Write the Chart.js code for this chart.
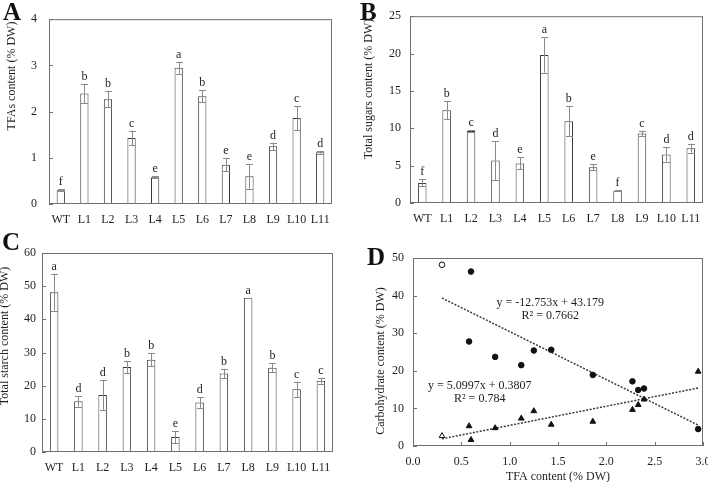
<!DOCTYPE html>
<html>
<head>
<meta charset="utf-8">
<script src="https://cdn.jsdelivr.net/npm/chart.js@4.4.0/dist/chart.umd.min.js"></script>
<style>
  body { margin: 0; background: #fff; width: 708px; height: 482px; position: relative; overflow: hidden; }
  canvas { position: absolute; }
</style>
</head>
<body>
<canvas id="chartA" width="340" height="230" style="left:0;top:0"></canvas>
<canvas id="chartB" width="354" height="230" style="left:354px;top:0"></canvas>
<canvas id="chartC" width="340" height="252" style="left:0;top:230px"></canvas>
<canvas id="chartD" width="354" height="252" style="left:354px;top:230px"></canvas>
<script>
'use strict'

const lines = ['WT', 'L1', 'L2', 'L3', 'L4', 'L5', 'L6', 'L7', 'L8', 'L9', 'L10', 'L11'];

// TFAs content (% DW)
const tfa = [0.30, 2.39, 2.27, 1.43, 0.58, 2.95, 2.33, 0.85, 0.60, 1.25, 1.86, 1.12];
const tfaErr = [0.02, 0.21, 0.18, 0.16, 0.02, 0.13, 0.13, 0.14, 0.27, 0.08, 0.26, 0.03];
const tfaLetters = ['f', 'b', 'b', 'c', 'e', 'a', 'b', 'e', 'e', 'd', 'c', 'd'];

// Total sugars content (% DW)
const sugars = [2.68, 12.4, 9.65, 5.7, 5.3, 19.8, 10.95, 4.78, 1.64, 9.3, 6.5, 7.34];
const sugarsErr = [0.47, 1.2, 0.12, 2.6, 0.8, 2.35, 2.05, 0.42, 0.05, 0.4, 0.95, 0.6];
const sugarsLetters = ['f', 'b', 'c', 'd', 'e', 'a', 'b', 'e', 'f', 'c', 'd', 'd'];

// Total starch content (% DW)
const starch = [48.2, 15.3, 17.2, 25.6, 27.8, 4.5, 14.9, 23.7, 46.4, 25.4, 18.9, 21.5];
const starchErr = [5.6, 1.6, 4.5, 1.8, 1.9, 1.8, 1.6, 1.4, 0.1, 1.3, 2.3, 0.9];
const starchLetters = ['a', 'd', 'd', 'b', 'b', 'e', 'd', 'b', 'a', 'b', 'c', 'c'];

// trend lines of panel D
const starchFit = [-12.753, 43.179];
const starchR2 = '0.7662';
const sugarsFit = [5.0997, 0.3807];
const sugarsR2 = '0.784';

const SERIF = '"Liberation Serif", "Times New Roman", serif';
const INK = '#1e1e1e';

// frame, inside ticks, error bars, letters, titles
const decor = {
    id: 'decor',
    afterDatasetsDraw(chart, args, opts) {
        const { ctx, chartArea: a, scales } = chart;
        ctx.save();

        if (opts.errors) {
            const meta = chart.getDatasetMeta(0);
            const values = chart.data.datasets[0].data;
            meta.data.forEach((bar, i) => {
                const top = scales.y.getPixelForValue(values[i] + opts.errors[i]);
                const bot = scales.y.getPixelForValue(values[i] - opts.errors[i]);
                const x = Math.round(bar.x) + 0.5;
                ctx.strokeStyle = '#8a8a8a';
                ctx.lineWidth = 1;
                ctx.beginPath();
                ctx.moveTo(x, top); ctx.lineTo(x, bot);
                ctx.moveTo(x - 3.5, Math.round(top) + 0.5); ctx.lineTo(x + 3.5, Math.round(top) + 0.5);
                ctx.moveTo(x - 3.5, Math.round(bot) + 0.5); ctx.lineTo(x + 3.5, Math.round(bot) + 0.5);
                ctx.stroke();
                ctx.fillStyle = INK;
                ctx.font = '12px ' + SERIF;
                ctx.textAlign = 'center';
                ctx.textBaseline = 'alphabetic';
                ctx.fillText(opts.letters[i], bar.x, top - 4);
            });
        }

        // plot frame
        ctx.strokeStyle = '#707070';
        ctx.lineWidth = 1;
        ctx.strokeRect(a.left + 0.5, a.top + 0.5, a.width - 1, a.height - 1);

        // tick marks pointing inside
        ctx.beginPath();
        scales.y.ticks.forEach((t, i) => {
            const p = Math.round(scales.y.getPixelForTick(i)) + 0.5;
            ctx.moveTo(a.left, p); ctx.lineTo(a.left + 4, p);
        });
        if (opts.xTicks) {
            scales.x.ticks.forEach((t, i) => {
                const p = Math.round(scales.x.getPixelForTick(i)) + 0.5;
                ctx.moveTo(p, a.bottom); ctx.lineTo(p, a.bottom - 4);
            });
        }
        ctx.stroke();

        ctx.fillStyle = INK;
        ctx.textAlign = 'center';
        ctx.textBaseline = 'middle';
        ctx.font = '12px ' + SERIF;
        if (opts.notes) {
            opts.notes.forEach(n => {
                const x = scales.x.getPixelForValue(n.x);
                const y = scales.y.getPixelForValue(n.y);
                n.text.forEach((t, k) => ctx.fillText(t, x, y + k * 13));
            });
        }
        if (opts.xTitle) {
            ctx.fillText(opts.xTitle, (a.left + a.right) / 2, opts.xTitleY);
        }
        ctx.save();
        ctx.translate(opts.yTitle.x, opts.yTitle.y);
        ctx.rotate(-Math.PI / 2);
        ctx.fillText(opts.yTitle.text, 0, 0);
        ctx.restore();

        ctx.font = 'bold 25px ' + SERIF;
        ctx.textAlign = 'left';
        ctx.textBaseline = 'alphabetic';
        ctx.fillStyle = '#111';
        ctx.fillText(opts.tag.text, opts.tag.x, opts.tag.y);

        ctx.restore();
    }
};

const tickFont = { family: SERIF, size: 12 };
const noGrid = { display: false, drawTicks: false };

function barChart(id, values, errors, letters, yMax, yStep, box) {
    return new Chart(document.getElementById(id), {
        type: 'bar',
        data: {
            labels: lines,
            datasets: [{
                data: values,
                backgroundColor: '#ffffff',
                borderColor: '#3a3a3a',
                borderWidth: 1,
                barPercentage: 0.35,
                categoryPercentage: 1
            }]
        },
        options: {
            responsive: false,
            animation: false,
            layout: { padding: { top: box.top, right: box.right, left: 0, bottom: 0 } },
            plugins: {
                legend: { display: false },
                tooltip: { enabled: false },
                decor: { errors, letters, yTitle: box.title, tag: box.tag }
            },
            scales: {
                x: {
                    grid: noGrid,
                    border: { display: false },
                    ticks: { color: INK, font: tickFont, padding: 9, maxRotation: 0, autoSkip: false },
                    afterFit: s => { s.height = box.xh; s.paddingLeft = 0; s.paddingRight = 0; }
                },
                y: {
                    min: 0,
                    max: yMax,
                    grid: noGrid,
                    border: { display: false },
                    ticks: { stepSize: yStep, color: INK, font: tickFont, padding: box.yPad },
                    afterFit: s => { s.width = box.yw; }
                }
            }
        },
        plugins: [decor]
    });
}

barChart('chartA', tfa, tfaErr, tfaLetters, 4, 1, {
    yw: 49, xh: 26, top: 4, right: 8, yPad: 12,
    title: { text: 'TFAs content (% DW)', x: 12, y: 76 },
    tag: { text: 'A', x: 3, y: 20 }
});

barChart('chartB', sugars, sugarsErr, sugarsLetters, 25, 5, {
    yw: 56, xh: 27, top: 5, right: 5, yPad: 9,
    title: { text: 'Total sugars content (% DW)', x: 15, y: 89 },
    tag: { text: 'B', x: 6, y: 20 }
});

barChart('chartC', starch, starchErr, starchLetters, 60, 10, {
    yw: 42, xh: 30, top: 23, right: 7, yPad: 6,
    title: { text: 'Total starch content (% DW)', x: 5, y: 106 },
    tag: { text: 'C', x: 2, y: 20 }
});

// panel D: carbohydrate vs TFA
const xLo = Math.min(...tfa);
const xHi = Math.max(...tfa);
const fitLine = f => [xLo, xHi].map(x => ({ x, y: f[0] * x + f[1] }));
const signed = v => (v < 0 ? '- ' + Math.abs(v) : '+ ' + v);

new Chart(document.getElementById('chartD'), {
    type: 'scatter',
    data: {
        datasets: [
            {
                data: tfa.map((x, i) => ({ x, y: starch[i] })),
                pointStyle: 'circle',
                radius: 2.8,
                borderWidth: 1,
                borderColor: '#111',
                backgroundColor: tfa.map((x, i) => (i === 0 ? '#fff' : '#111'))
            },
            {
                data: tfa.map((x, i) => ({ x, y: sugars[i] })),
                pointStyle: 'triangle',
                radius: 3.3,
                borderWidth: 1,
                borderColor: '#111',
                backgroundColor: tfa.map((x, i) => (i === 0 ? '#fff' : '#111'))
            },
            {
                data: fitLine(starchFit),
                showLine: true,
                borderColor: '#3a3a3a',
                borderWidth: 1.5,
                borderDash: [2, 1.5],
                pointRadius: 0
            },
            {
                data: fitLine(sugarsFit),
                showLine: true,
                borderColor: '#3a3a3a',
                borderWidth: 1.5,
                borderDash: [2, 1.5],
                pointRadius: 0
            }
        ]
    },
    options: {
        responsive: false,
        animation: false,
        layout: { padding: { top: 28, right: 1, left: 0, bottom: 0 } },
        plugins: {
            legend: { display: false },
            tooltip: { enabled: false },
            decor: {
                xTicks: true,
                xTitle: 'TFA content (% DW)',
                xTitleY: 247,
                yTitle: { text: 'Carbohydrate content (% DW)', x: 27, y: 131 },
                tag: { text: 'D', x: 13, y: 35 },
                notes: [
                    { x: 1.42, y: 38.2, text: ['y = ' + starchFit[0] + 'x ' + signed(starchFit[1]), 'R² = ' + starchR2] },
                    { x: 0.69, y: 16.0, text: ['y = ' + sugarsFit[0] + 'x ' + signed(sugarsFit[1]), 'R² = ' + sugarsR2] }
                ]
            }
        },
        scales: {
            x: {
                type: 'linear',
                min: 0,
                max: 3,
                grid: noGrid,
                border: { display: false },
                ticks: { stepSize: 0.5, color: INK, font: tickFont, padding: 9, callback: v => v.toFixed(1) },
                afterFit: s => { s.height = 36; s.paddingLeft = 0; s.paddingRight = 0; }
            },
            y: {
                min: 0,
                max: 50,
                grid: noGrid,
                border: { display: false },
                ticks: { stepSize: 10, color: INK, font: tickFont, padding: 9 },
                afterFit: s => { s.width = 59; }
            }
        }
    },
    plugins: [decor]
});
</script>
</body>
</html>
